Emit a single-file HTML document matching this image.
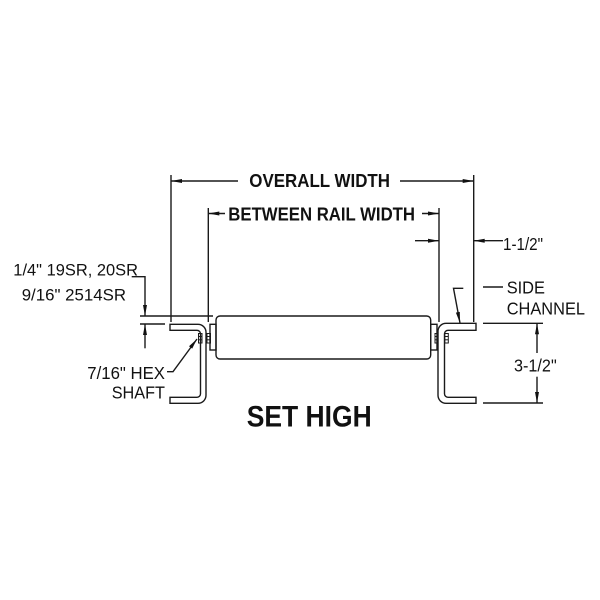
<!DOCTYPE html>
<html>
<head>
<meta charset="utf-8">
<style>
html,body{margin:0;padding:0;background:#fff;}
svg{display:block;}
text{font-family:"Liberation Sans",Arial,sans-serif;fill:#111;}
.b{font-weight:bold;}
</style>
</head>
<body>
<svg width="600" height="600" viewBox="0 0 600 600" xmlns="http://www.w3.org/2000/svg">
<rect width="600" height="600" fill="#fff"/>
<g stroke="#1a1a1a" stroke-width="1.4" fill="none">
  <!-- extension lines -->
  <line x1="171" y1="175" x2="171" y2="322"/>
  <line x1="208.3" y1="208" x2="208.3" y2="322"/>
  <line x1="439" y1="208" x2="439" y2="322"/>
  <line x1="473.7" y1="175" x2="473.7" y2="322"/>

  <!-- overall width -->
  <line x1="171" y1="181" x2="238" y2="181"/>
  <line x1="400" y1="181" x2="473.7" y2="181"/>
  <!-- between rail -->
  <line x1="208.3" y1="213.5" x2="225" y2="213.5"/>
  <line x1="422" y1="213.5" x2="439" y2="213.5"/>
  <!-- 1-1/2 -->
  <line x1="415" y1="240.7" x2="439" y2="240.7"/>
  <line x1="473.7" y1="240.7" x2="503" y2="240.7"/>

  <!-- 1/4 dim -->
  <polyline points="131.7,276.7 145,276.7 145,316"/>
  <line x1="140" y1="316" x2="213" y2="316"/>
  <line x1="140" y1="324" x2="165" y2="324"/>
  <line x1="145" y1="324" x2="145" y2="348.3"/>

  <!-- hex shaft leader -->
  <polyline points="167,371.7 173,371.7 197,339"/>

  <!-- side channel leader -->
  <line x1="483" y1="287" x2="503" y2="287"/>
  <polyline points="463.3,288.3 453.5,288.3 460,323"/>

  <!-- 3-1/2 dim -->
  <line x1="483" y1="323.3" x2="543" y2="323.3"/>
  <line x1="483" y1="403" x2="543" y2="403"/>
  <line x1="537" y1="323.3" x2="537" y2="353"/>
  <line x1="537" y1="376.7" x2="537" y2="403"/>

  <!-- left channel -->
  <path d="M170,324.3 H198 A8,8 0 0 1 206,332.3 V395.3 A8,8 0 0 1 198,403.3 H170 V397.3 H197 A3.5,3.5 0 0 0 200.5,393.8 V333.8 A3.5,3.5 0 0 0 197,330.3 H170 Z"/>
  <!-- right channel -->
  <path d="M476,323.3 H446 A8,8 0 0 0 438,331.3 V395.3 A8,8 0 0 0 446,403.3 H476 V397.3 H448 A3.5,3.5 0 0 1 444.5,393.8 V333.8 A3.5,3.5 0 0 1 448,330.3 H476 Z"/>

  <!-- roller -->
  <rect x="216" y="316" width="214.7" height="43" rx="4" ry="4"/>
  <rect x="210" y="324.3" width="6" height="25.7"/>
  <rect x="430.7" y="324.3" width="6.3" height="25.7"/>
</g>

<!-- hex shaft marks -->
<g stroke="#1a1a1a" stroke-width="1" fill="none">
  <rect x="198.5" y="333.5" width="3.5" height="9.5"/>
  <line x1="198.5" y1="336.5" x2="202" y2="336.5"/>
  <line x1="198.5" y1="339.8" x2="202" y2="339.8"/>
  <rect x="207" y="333.5" width="3.5" height="9.5"/>
  <line x1="207" y1="336.5" x2="210.5" y2="336.5"/>
  <line x1="207" y1="339.8" x2="210.5" y2="339.8"/>
  <rect x="435" y="333.5" width="3" height="9.5"/>
  <line x1="435" y1="336.5" x2="438" y2="336.5"/>
  <line x1="435" y1="339.8" x2="438" y2="339.8"/>
  <rect x="444.8" y="333.5" width="3.5" height="9.5"/>
  <line x1="444.8" y1="336.5" x2="448.3" y2="336.5"/>
  <line x1="444.8" y1="339.8" x2="448.3" y2="339.8"/>
</g>

<!-- arrowheads -->
<g fill="#111" stroke="none">
  <polygon points="171,181 182,179 182,183"/>
  <polygon points="473.7,181 462.7,179 462.7,183"/>
  <polygon points="208.3,213.5 219.3,211.5 219.3,215.5"/>
  <polygon points="439,213.5 428,211.5 428,215.5"/>
  <polygon points="439,240.7 428,238.7 428,242.7"/>
  <polygon points="473.7,240.7 484.7,238.7 484.7,242.7"/>
  <polygon points="145,316 143,305 147,305"/>
  <polygon points="145,324 143,335 147,335"/>
  <polygon points="537,323.3 535,334.3 539,334.3"/>
  <polygon points="537,403 535,392 539,392"/>
  <polygon points="197,339 192.2,348.6 189,346.2"/>
  <polygon points="460,323 455.9,312.6 459.8,311.9"/>
</g>

<!-- text -->
<text class="b" x="249.3" y="187" font-size="18" textLength="140.7" lengthAdjust="spacingAndGlyphs">OVERALL WIDTH</text>
<text class="b" x="228.3" y="220.3" font-size="18" textLength="186.7" lengthAdjust="spacingAndGlyphs">BETWEEN RAIL WIDTH</text>
<text x="503" y="250" font-size="17.5" textLength="40" lengthAdjust="spacingAndGlyphs">1-1/2"</text>
<text x="506.7" y="293.3" font-size="17.5" textLength="38.3" lengthAdjust="spacingAndGlyphs">SIDE</text>
<text x="506.7" y="314.3" font-size="17.5" textLength="78.3" lengthAdjust="spacingAndGlyphs">CHANNEL</text>
<text x="514" y="371.7" font-size="17.5" textLength="42.7" lengthAdjust="spacingAndGlyphs">3-1/2"</text>
<text x="13.3" y="275.7" font-size="17" textLength="124.7" lengthAdjust="spacingAndGlyphs">1/4" 19SR, 20SR</text>
<text x="21.7" y="300.7" font-size="17" textLength="104.3" lengthAdjust="spacingAndGlyphs">9/16" 2514SR</text>
<text x="87.3" y="379" font-size="17.5" textLength="77.7" lengthAdjust="spacingAndGlyphs">7/16" HEX</text>
<text x="111.7" y="398.3" font-size="17.5" textLength="53.3" lengthAdjust="spacingAndGlyphs">SHAFT</text>
<text class="b" x="246.7" y="426.7" font-size="29.5" textLength="125" lengthAdjust="spacingAndGlyphs">SET HIGH</text>
</svg>
</body>
</html>
